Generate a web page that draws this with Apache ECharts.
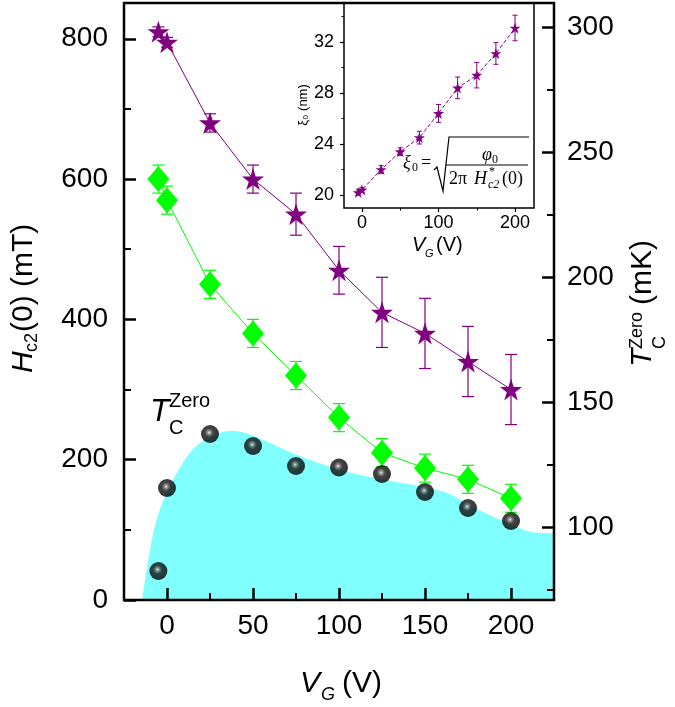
<!DOCTYPE html>
<html><head><meta charset="utf-8">
<script src="https://cdn.jsdelivr.net/npm/echarts@6/dist/echarts.min.js"></script>
<style>html,body{margin:0;padding:0;background:#fff}#c{width:675px;height:707px}</style>
</head><body><div id="c"></div>
<script>
// ---- data ----
const vg = [-5, 0, 25, 50, 75, 100, 125, 150, 175, 200];
const hc2Star = [810, 795, 680, 600, 550, 470, 410, 380, 340, 300];
const hc2StarErr = [7, 7, 13, 20, 30, 34, 50, 50, 50, 50];
const hc2Diamond = [600, 570, 450, 380, 320, 260, 210, 188, 172, 145];
const hc2DiamondErr = [20, 20, 20, 20, 20, 20, 20, 20, 20, 20];
const tcZero = [82.4, 115.6, 137.2, 132.4, 124.4, 123.8, 121.2, 114, 107.6, 102.4];
const tcAreaV = [-14.5, -8, -2, 6, 15, 25, 38, 50, 75, 100, 125, 150, 165, 175, 187, 200, 212, 225];
const tcAreaT = [70.8, 97.6, 111, 122, 131, 136, 138.5, 136.5, 129, 123, 119, 116, 113, 109, 105, 101, 98, 97.5];
const xi0 = [20.2, 20.4, 22.0, 23.4, 24.5, 26.4, 28.4, 29.4, 31.1, 33.1];
const xi0Err = [0.2, 0.2, 0.3, 0.3, 0.5, 0.7, 0.85, 1.0, 0.85, 1.0];
const mainXTicks = [0, 50, 100, 150, 200];
const mainXMinor = [25, 75, 125, 175];
const leftYTicks = [0, 200, 400, 600, 800];
const leftYMinor = [100, 300, 500, 700];
const rightYTicks = [100, 150, 200, 250, 300];
const rightYMinor = [75, 125, 175, 225, 275];
const insetXTicks = [0, 100, 200];
const insetXMinor = [50, 150];
const insetYTicks = [20, 24, 28, 32];
const insetYMinor = [22, 26, 30, 34];

const PURPLE = '#800080', GREEN = '#00ff00', CYAN = '#80ffff';
const SANS = 'Liberation Sans, Arial, sans-serif';
const SERIF = 'Liberation Serif, DejaVu Serif, serif';
const STAR = 'path://M50,0 L61.8,35.1 L98.9,35.1 L68.8,56.8 L80.3,91.9 L50,70.2 L19.7,91.9 L31.2,56.8 L1.1,35.1 L38.2,35.1 Z';

const zip = (a, b) => a.map((v, i) => [v, b[i]]);
const zip3 = (a, b, c) => a.map((v, i) => [v, b[i], c[i]]);

function errRender(capW, color, lw) {
  return function (params, api) {
    const x = api.value(0), y = api.value(1), e = api.value(2);
    const t = api.coord([x, y + e]), b = api.coord([x, y - e]);
    const st = { stroke: color, lineWidth: lw };
    return { type: 'group', children: [
      { type: 'line', shape: { x1: t[0], y1: t[1], x2: b[0], y2: b[1] }, style: st },
      { type: 'line', shape: { x1: t[0] - capW / 2, y1: t[1], x2: t[0] + capW / 2, y2: t[1] }, style: st },
      { type: 'line', shape: { x1: b[0] - capW / 2, y1: b[1], x2: b[0] + capW / 2, y2: b[1] }, style: st }
    ]};
  };
}

function tickAxis(o) {
  return Object.assign({
    type: 'value', z: 20, splitLine: { show: false }, axisLine: { show: false, onZero: false },
    axisTick: { show: true, inside: o.inside, length: o.len, customValues: o.ticks, lineStyle: { color: '#000', width: o.tw } },
    axisLabel: o.label ? { show: true, customValues: o.ticks, fontSize: o.fs, color: '#000', fontFamily: SANS, margin: o.margin } : { show: false, customValues: o.ticks }
  }, o.base);
}

const chart = echarts.init(document.getElementById('c'), null, { renderer: 'canvas' });
const option = {
  animation: false,
  backgroundColor: '#fff',
  grid: [
    { left: 124, top: 3, width: 430, height: 597, show: true, z: 20, borderColor: '#000', borderWidth: 2.5, backgroundColor: 'transparent' },
    { left: 344, top: 3, width: 190, height: 205, show: true, z: 20, borderColor: '#000', borderWidth: 1.5, backgroundColor: 'transparent' }
  ],
  xAxis: [
    tickAxis({ base: { gridIndex: 0, min: -25, max: 225, position: 'bottom' }, inside: true, len: 12, tw: 2.5, ticks: mainXTicks, label: true, fs: 28, margin: 12 }),
    tickAxis({ base: { gridIndex: 0, min: -25, max: 225, position: 'bottom' }, inside: true, len: 7, tw: 2, ticks: mainXMinor }),
    tickAxis({ base: { gridIndex: 1, min: -23.5, max: 224.8, position: 'bottom' }, inside: false, len: 4, tw: 1.2, ticks: insetXTicks, label: true, fs: 18, margin: 6 }),
    tickAxis({ base: { gridIndex: 1, min: -23.5, max: 224.8, position: 'bottom' }, inside: false, len: 2.5, tw: 1, ticks: insetXMinor })
  ],
  yAxis: [
    tickAxis({ base: { gridIndex: 0, min: 0, max: 851, position: 'left' }, inside: true, len: 12, tw: 2.5, ticks: leftYTicks, label: true, fs: 28, margin: 16 }),
    tickAxis({ base: { gridIndex: 0, min: 0, max: 851, position: 'left' }, inside: true, len: 7, tw: 2, ticks: leftYMinor }),
    tickAxis({ base: { gridIndex: 0, min: 70.8, max: 309.6, position: 'right' }, inside: true, len: 12, tw: 2.5, ticks: rightYTicks, label: true, fs: 28, margin: 13 }),
    tickAxis({ base: { gridIndex: 0, min: 70.8, max: 309.6, position: 'right' }, inside: true, len: 7, tw: 2, ticks: rightYMinor }),
    tickAxis({ base: { gridIndex: 1, min: 18.98, max: 35.06, position: 'left' }, inside: false, len: 4, tw: 1.2, ticks: insetYTicks, label: true, fs: 18, margin: 10 }),
    tickAxis({ base: { gridIndex: 1, min: 18.98, max: 35.06, position: 'left' }, inside: false, len: 2.5, tw: 1, ticks: insetYMinor })
  ],
  series: [
    { type: 'line', xAxisIndex: 0, yAxisIndex: 2, data: zip(tcAreaV, tcAreaT), smooth: 0.35, symbol: 'none',
      lineStyle: { width: 0 }, areaStyle: { color: CYAN, opacity: 1, origin: 'start' }, z: 1, silent: true },
    { type: 'custom', xAxisIndex: 0, yAxisIndex: 0, data: zip3(vg, hc2Star, hc2StarErr), encode: { x: 0, y: 1 },
      renderItem: errRender(12, PURPLE, 1.2), z: 2, silent: true },
    { type: 'line', xAxisIndex: 0, yAxisIndex: 0, data: zip(vg, hc2Star), symbol: STAR, symbolSize: 22,
      itemStyle: { color: PURPLE }, lineStyle: { color: PURPLE, width: 1 }, z: 3 },
    { type: 'custom', xAxisIndex: 0, yAxisIndex: 0, data: zip3(vg, hc2Diamond, hc2DiamondErr), encode: { x: 0, y: 1 },
      renderItem: errRender(12, GREEN, 1.2), z: 2, silent: true },
    { type: 'line', xAxisIndex: 0, yAxisIndex: 0, data: zip(vg, hc2Diamond), symbol: 'diamond', symbolSize: [22, 26],
      itemStyle: { color: GREEN }, lineStyle: { color: GREEN, width: 1 }, z: 3 },
    { type: 'scatter', xAxisIndex: 0, yAxisIndex: 2, data: zip(vg, tcZero), symbol: 'circle', symbolSize: 18,
      itemStyle: { color: { type: 'radial', x: 0.45, y: 0.42, r: 0.6, colorStops: [
        { offset: 0, color: '#e8e8e8' }, { offset: 0.15, color: '#7a7a7a' }, { offset: 0.4, color: '#141414' }, { offset: 1, color: '#000' } ] } }, z: 4 },
    { type: 'custom', xAxisIndex: 2, yAxisIndex: 4, data: zip3(vg, xi0, xi0Err), encode: { x: 0, y: 1 },
      renderItem: errRender(5, PURPLE, 1), z: 5, silent: true },
    { type: 'line', xAxisIndex: 2, yAxisIndex: 4, data: zip(vg, xi0), symbol: STAR, symbolSize: 11,
      itemStyle: { color: PURPLE }, lineStyle: { color: PURPLE, width: 1, type: [4, 2] }, z: 6 }
  ],
  graphic: [
    // left axis title
    { type: 'group', x: 24, y: 373, rotation: Math.PI / 2, children: [
      { type: 'text', x: 0, y: 0, style: { text: 'H', font: 'italic 30px ' + SANS, fill: '#000', align: 'left', verticalAlign: 'middle' } },
      { type: 'text', x: 21, y: 8, style: { text: 'c2', font: '18px ' + SANS, fill: '#000', align: 'left', verticalAlign: 'middle' } },
      { type: 'text', x: 41, y: 0, style: { text: '(0) (mT)', font: '30px ' + SANS, fill: '#000', align: 'left', verticalAlign: 'middle' } }
    ]},
    // right axis title
    { type: 'group', x: 643, y: 367, rotation: Math.PI / 2, children: [
      { type: 'text', x: 0, y: 0, style: { text: 'T', font: 'italic 30px ' + SANS, fill: '#000', align: 'left', verticalAlign: 'middle' } },
      { type: 'text', x: 18, y: -6, style: { text: 'Zero', font: '18px ' + SANS, fill: '#000', align: 'left', verticalAlign: 'middle' } },
      { type: 'text', x: 18, y: 17, style: { text: 'C', font: '18px ' + SANS, fill: '#000', align: 'left', verticalAlign: 'middle' } },
      { type: 'text', x: 62, y: 0, style: { text: '(mK)', font: '30px ' + SANS, fill: '#000', align: 'left', verticalAlign: 'middle' } }
    ]},
    // bottom axis title
    { type: 'text', x: 300, y: 684, style: { text: 'V', font: 'italic 30px ' + SANS, fill: '#000', verticalAlign: 'middle' } },
    { type: 'text', x: 321, y: 695, style: { text: 'G', font: 'italic 18px ' + SANS, fill: '#000', verticalAlign: 'middle' } },
    { type: 'text', x: 342, y: 684, style: { text: '(V)', font: '30px ' + SANS, fill: '#000', verticalAlign: 'middle' } },
    // in-plot label T_C^Zero
    { type: 'text', x: 150, y: 412, z: 10, style: { text: 'T', font: 'italic 32px ' + SANS, fill: '#000', verticalAlign: 'middle' } },
    { type: 'text', x: 169, y: 401, z: 10, style: { text: 'Zero', font: '20px ' + SANS, fill: '#000', verticalAlign: 'middle' } },
    { type: 'text', x: 169, y: 428, z: 10, style: { text: 'C', font: '20px ' + SANS, fill: '#000', verticalAlign: 'middle' } },
    // inset axis titles
    { type: 'text', x: 303, y: 105, rotation: Math.PI / 2, style: { text: 'ξ₀ (nm)', font: '13px ' + SANS, fill: '#000', align: 'center', verticalAlign: 'middle' } },
    { type: 'text', x: 412, y: 245, style: { text: 'V', font: 'italic 20px ' + SANS, fill: '#000', verticalAlign: 'middle' } },
    { type: 'text', x: 425, y: 254, style: { text: 'G', font: 'italic 11px ' + SANS, fill: '#000', verticalAlign: 'middle' } },
    { type: 'text', x: 436, y: 245, style: { text: '(V)', font: '20px ' + SANS, fill: '#000', verticalAlign: 'middle' } },
    // formula
    { type: 'text', x: 403, y: 163, z: 10, style: { text: 'ξ', font: 'italic 18px ' + SERIF, fill: '#000', verticalAlign: 'middle' } },
    { type: 'text', x: 412, y: 168, z: 10, style: { text: '0', font: '12px ' + SERIF, fill: '#000', verticalAlign: 'middle' } },
    { type: 'text', x: 421, y: 163, z: 10, style: { text: '=', font: '18px ' + SERIF, fill: '#000', verticalAlign: 'middle' } },
    { type: 'polyline', z: 10, shape: { points: [[434, 170], [437, 167], [443, 191], [449, 137], [529, 137]] }, style: { stroke: '#000', lineWidth: 1.2, fill: null } },
    { type: 'line', z: 10, shape: { x1: 446, y1: 165, x2: 528, y2: 165 }, style: { stroke: '#000', lineWidth: 1 } },
    { type: 'text', x: 482, y: 155, z: 10, style: { text: 'φ', font: 'italic 18px ' + SERIF, fill: '#000', verticalAlign: 'middle' } },
    { type: 'text', x: 492, y: 160, z: 10, style: { text: '0', font: '12px ' + SERIF, fill: '#000', verticalAlign: 'middle' } },
    { type: 'text', x: 449, y: 179, z: 10, style: { text: '2π', font: '18px ' + SERIF, fill: '#000', verticalAlign: 'middle' } },
    { type: 'text', x: 474, y: 179, z: 10, style: { text: 'H', font: 'italic 18px ' + SERIF, fill: '#000', verticalAlign: 'middle' } },
    { type: 'text', x: 489, y: 172, z: 10, style: { text: '*', font: '12px ' + SERIF, fill: '#000', verticalAlign: 'middle' } },
    { type: 'text', x: 488, y: 185, z: 10, style: { text: 'c2', font: 'italic 12px ' + SERIF, fill: '#000', verticalAlign: 'middle' } },
    { type: 'text', x: 502, y: 179, z: 10, style: { text: '(0)', font: '18px ' + SERIF, fill: '#000', verticalAlign: 'middle' } }
  ]
};
chart.setOption(option);
</script></body></html>
